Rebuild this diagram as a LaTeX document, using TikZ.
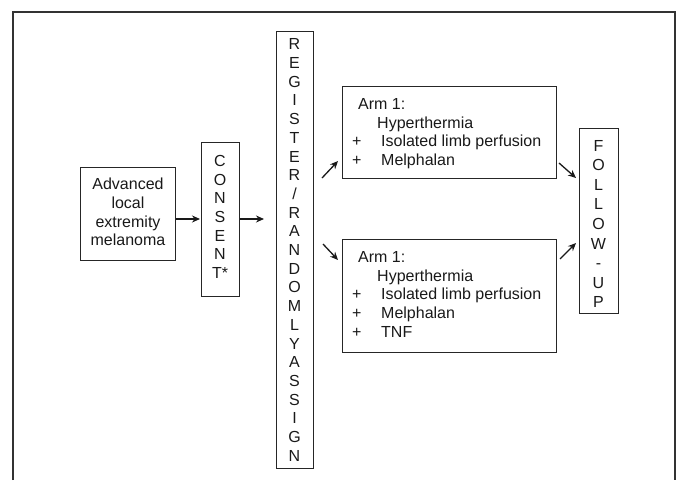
\documentclass[tikz,border=0pt]{standalone}
\usepackage{fontspec}
\setmainfont{Liberation Sans}
\usetikzlibrary{arrows.meta}
\begin{document}
\begin{tikzpicture}[x=1pt,y=-1pt,
  box/.style={draw=black!85,line width=1.2pt,inner sep=0pt,anchor=north west},
  txt/.style={inner sep=0pt,anchor=base west,text=black!90,font=\fontsize{16}{18.7}\selectfont},
  vtxt/.style={inner sep=0pt,align=center,text=black!90,font=\fontsize{16}{18.7}\selectfont},
  arr/.style={draw=black!90,line width=1.3pt,-{Stealth[length=8pt,width=7pt]}}]
\useasboundingbox (0,0) rectangle (679,480);
% outer frame
\draw[black!80,line width=1.4pt] (13,480) -- (13,12) -- (675,12) -- (675,480);
% boxes
\node[box,minimum width=95pt,minimum height=93pt] (adv) at (80,167) {};
\node[box,minimum width=38pt,minimum height=154pt] (cons) at (201,142) {};
\node[box,minimum width=37pt,minimum height=437pt] (reg) at (276,31) {};
\node[box,minimum width=214pt,minimum height=92pt] (arm1) at (342,86) {};
\node[box,minimum width=214pt,minimum height=113pt] (arm2) at (342,239) {};
\node[box,minimum width=39pt,minimum height=185pt] (fol) at (579,128) {};
% texts
\node[vtxt] (advt) at (128,212) {Advanced\\local\\extremity\\melanoma};
\node[vtxt] (const) at (220,217) {C\\O\\N\\S\\E\\N\\T*};
\node[vtxt] (regt) at (294.5,250) {R\\E\\G\\I\\S\\T\\E\\R\\/\\R\\A\\N\\D\\O\\M\\L\\Y\\A\\S\\S\\I\\G\\N};
\node[vtxt,font=\fontsize{16}{19.6}\selectfont] (folt) at (598.5,224) {F\\O\\L\\L\\O\\W\\-\\U\\P};
% arm 1
\node[txt] (a1l1) at (358,109) {Arm 1:};
\node[txt] (a1l2) at (377,128) {Hyperthermia};
\node[txt] (a1p3) at (352,146) {+};
\node[txt] (a1l3) at (381,146) {Isolated limb perfusion};
\node[txt] (a1p4) at (352,165) {+};
\node[txt] (a1l4) at (381,165) {Melphalan};
% arm 2
\node[txt] (a2l1) at (358,262) {Arm 1:};
\node[txt] (a2l2) at (377,281) {Hyperthermia};
\node[txt] (a2p3) at (352,299) {+};
\node[txt] (a2l3) at (381,299) {Isolated limb perfusion};
\node[txt] (a2p4) at (352,318) {+};
\node[txt] (a2l4) at (381,318) {Melphalan};
\node[txt] (a2p5) at (352,337) {+};
\node[txt] (a2l5) at (381,337) {TNF};
% connector coordinates
\coordinate (r1s) at (322,178);
\coordinate (r1e) at (338,161);
\coordinate (r2s) at (323,244);
\coordinate (r2e) at (338,260);
\coordinate (f1s) at (559,163);
\coordinate (f1e) at (576,178);
\coordinate (f2s) at (560,259);
\coordinate (f2e) at (576,243);
% arrows
\draw[arr,shorten >=1pt] (adv.east |- 0,219) -- (cons.west |- 0,219);
\draw[arr,shorten >=12pt] (cons.east |- 0,219) -- (reg.west |- 0,219);
\draw[arr] (r1s) -- (r1e);
\draw[arr] (r2s) -- (r2e);
\draw[arr] (f1s) -- (f1e);
\draw[arr] (f2s) -- (f2e);
\end{tikzpicture}
\end{document}
